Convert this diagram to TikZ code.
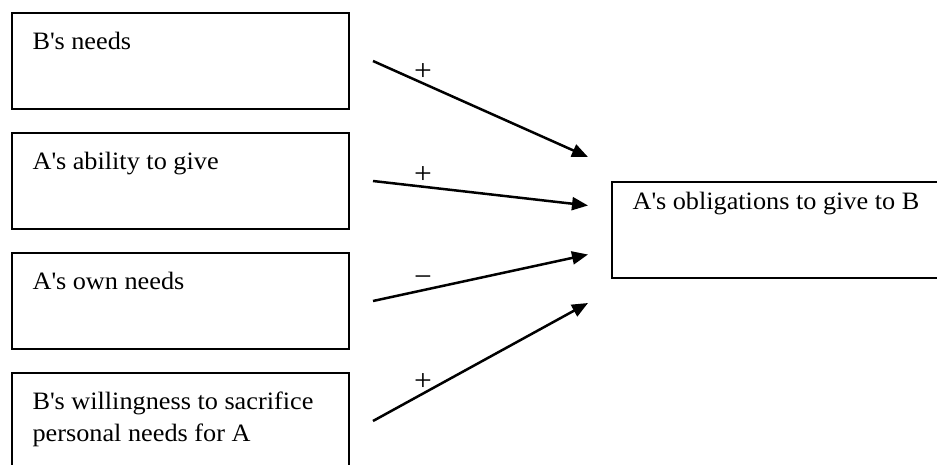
\documentclass[tikz,border=0pt]{standalone}
\usepackage{fontspec}
\setmainfont{Liberation Serif}[FakeStretch=1.05]
\usetikzlibrary{positioning,calc,arrows.meta}
\newcommand{\sq}{\textquotesingle}

\begin{document}
\begin{tikzpicture}[node distance=12pt,
    factor/.style={draw, line width=1pt, minimum width=168.5pt, minimum height=48pt, outer sep=0pt},
    boxtext/.style={anchor=north west, inner xsep=10.3pt, inner ysep=9.5pt, outer sep=0pt, align=left, font=\fontsize{12.5}{16}\selectfont},
    arrow/.style={-{Triangle[length=8pt, width=6.5pt]}, line width=1.25pt},
    sign/.style={above, inner sep=1pt, font=\fontsize{15}{16}\selectfont}]

    \useasboundingbox (0,0) rectangle (468.5pt,-232.5pt);

    \node (needB) [factor, anchor=north west, label={[boxtext]north west:B\sq s needs}] at (6pt,-6.5pt) {};
    \node (abilA) [factor, below=of needB, label={[boxtext]north west:A\sq s ability to give}] {};
    \node (needA) [factor, below=of abilA, label={[boxtext]north west:A\sq s own needs}] {};
    \node (willB) [factor, below=of needA, label={[boxtext]north west:B\sq s willingness to sacrifice\\personal needs for A}] {};
    \node (oblig) [factor, anchor=north west, label={[boxtext, inner ysep=5.1pt]north west:A\sq s obligations to give to B}] at (306pt,-91pt) {};

    \coordinate (s1) at ($(needB.east)+(12pt,0)$);
    \coordinate (s2) at ($(abilA.east)+(12pt,0)$);
    \coordinate (s3) at ($(needA.east)+(12pt,0)$);
    \coordinate (s4) at ($(willB.east)+(12pt,0)$);
    \coordinate (e1) at ($(oblig.west)+(-12pt,36.5pt)$);
    \coordinate (e2) at ($(oblig.west)+(-12pt,12.25pt)$);
    \coordinate (e3) at ($(oblig.west)+(-12pt,-12.25pt)$);
    \coordinate (e4) at ($(oblig.west)+(-12pt,-36.5pt)$);

    \draw [arrow] (s1) -- node [sign, pos=0.233] {+} (e1);
    \draw [arrow] (s2) -- node [sign, pos=0.233] {+} (e2);
    \draw [arrow] (s3) -- node [sign, pos=0.233] {−} (e3);
    \draw [arrow] (s4) -- node [sign, pos=0.233] {+} (e4);
\end{tikzpicture}
\end{document}
